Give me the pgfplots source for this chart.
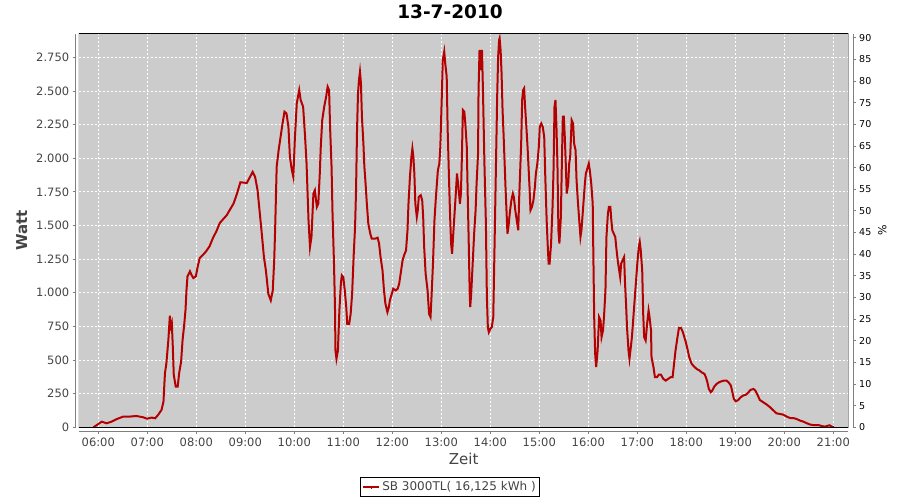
\documentclass[border=0pt]{standalone}
\usepackage{pgfplots}
\pgfplotsset{compat=1.18}
\usepackage{fontspec}
\setmainfont{DejaVu Sans}
\definecolor{lineRed}{RGB}{180,0,0}
\definecolor{plotBg}{RGB}{204,204,204}
\definecolor{txtGray}{RGB}{68,68,68}
\definecolor{axGray}{RGB}{128,128,128}
\begin{document}
\begin{tikzpicture}[x=1pt,y=1pt]
\path[use as bounding box] (0,0) rectangle (900,500);
\node[font=\fontsize{18.5}{20}\selectfont\bfseries, anchor=base] at (450,481.7) {13-7-2010};
\begin{axis}[
  at={(79pt,72.7pt)}, anchor=south west,
  scale only axis, width=769.3pt, height=393.3pt,
  xmin=5.606, xmax=21.306, ymin=0, ymax=2923,
  axis x line=bottom, axis y line=left,
  axis line style={axGray, -}, axis x line shift=3.7pt, axis y line shift=3.3pt,
  axis background/.style={fill=plotBg},
  xtick={6,7,...,21},
  xticklabels={06:00,07:00,08:00,09:00,10:00,11:00,12:00,13:00,14:00,15:00,16:00,17:00,18:00,19:00,20:00,21:00},
  ytick={0,250,...,2750},
  /pgf/number format/.cd, 1000 sep={.}, assume math mode=true, /pgfplots/.cd,
  scaled y ticks=false,
  tick align=outside, major tick length=3pt, tick style={axGray, line width=0.8pt},
  tick label style={font=\fontsize{11.5}{13}\selectfont, text=txtGray},
  grid=major, major grid style={white, dash pattern=on 2pt off 2pt, line width=0.8pt},
  xlabel={Zeit}, ylabel={Watt},
  xlabel style={font=\fontsize{15}{17}\selectfont, text=txtGray},
  ylabel style={font=\fontsize{15}{17}\selectfont\bfseries, text=txtGray, xshift=0pt, yshift=2pt},
  legend style={at={(0.4823,-0.1271)}, anchor=north, draw=black, line width=0.8pt,
    font=\fontsize{12}{13.5}\selectfont, text=txtGray, inner xsep=2pt, inner ysep=2pt},
  legend image code/.code={\draw[lineRed, line width=2pt] (0pt,0pt) -- (16pt,0pt);
    \draw[lineRed, line width=1pt] (8pt,0pt) -- (8pt,-2.5pt);},
]
\addplot[lineRed, line width=2pt] coordinates {
(5.90,0) (5.97,17) (6.07,42) (6.17,30) (6.27,42) (6.37,60) (6.51,80) (6.65,80)
(6.78,84) (6.92,74) (6.99,64) (7.09,72) (7.16,67) (7.22,92) (7.29,129) (7.33,191)
(7.36,402) (7.39,477) (7.43,650) (7.46,829) (7.48,750) (7.50,775) (7.52,600)
(7.54,390) (7.58,302) (7.62,302) (7.65,402) (7.69,489) (7.72,650) (7.75,750)
(7.78,873) (7.80,1022) (7.82,1121) (7.87,1159) (7.90,1134) (7.94,1109) (7.99,1121)
(8.03,1196) (8.07,1258) (8.14,1283) (8.20,1308) (8.27,1345) (8.34,1407) (8.41,1457)
(8.48,1519) (8.62,1576) (8.76,1663) (8.82,1725) (8.90,1821) (9.03,1816) (9.06,1836)
(9.15,1898) (9.20,1861) (9.25,1762) (9.29,1613) (9.33,1464) (9.38,1265) (9.42,1166)
(9.47,992) (9.52,943) (9.56,1017) (9.59,1241) (9.61,1489) (9.64,1936) (9.68,2060)
(9.72,2159) (9.76,2258) (9.80,2345) (9.84,2333) (9.88,2233) (9.91,2010) (9.95,1911)
(9.98,1861) (10.01,2134) (10.05,2407) (10.10,2506) (10.13,2432) (10.18,2382)
(10.22,2159) (10.25,1960) (10.29,1538) (10.32,1340) (10.35,1414) (10.39,1737)
(10.42,1762) (10.46,1638) (10.49,1663) (10.52,1886) (10.54,2084) (10.57,2283)
(10.61,2382) (10.65,2457) (10.68,2531) (10.71,2506) (10.73,2233) (10.76,1936)
(10.78,1588) (10.81,1216) (10.83,893) (10.84,571) (10.86,509) (10.89,571) (10.92,868)
(10.95,1067) (10.97,1129) (11.00,1116) (11.03,1017) (11.06,893) (11.08,769)
(11.12,769) (11.15,843) (11.18,992) (11.21,1265) (11.24,1489) (11.26,1762)
(11.28,2208) (11.30,2481) (11.32,2581) (11.34,2643) (11.36,2556) (11.38,2308)
(11.41,2109) (11.43,1936) (11.45,1836) (11.48,1663) (11.51,1514) (11.55,1439)
(11.58,1402) (11.65,1402) (11.70,1409) (11.73,1365) (11.76,1265) (11.80,1166)
(11.83,1017) (11.86,918) (11.90,856) (11.93,893) (11.95,943) (11.99,992) (12.02,1030)
(12.07,1017) (12.11,1030) (12.14,1067) (12.17,1141) (12.21,1241) (12.24,1278)
(12.28,1315) (12.31,1464) (12.33,1662) (12.36,1861) (12.39,2010) (12.41,2072)
(12.43,2010) (12.45,1886) (12.47,1662) (12.50,1563) (12.52,1613) (12.54,1712)
(12.58,1725) (12.61,1687) (12.63,1563) (12.65,1340) (12.68,1141) (12.72,1017)
(12.75,843) (12.78,819) (12.80,968) (12.83,1216) (12.86,1538) (12.89,1712)
(12.91,1811) (12.93,1911) (12.96,1960) (12.98,2084) (13.01,2457) (13.03,2730)
(13.06,2792) (13.08,2705) (13.11,2606) (13.13,2208) (13.16,1811) (13.18,1563)
(13.20,1365) (13.22,1290) (13.24,1414) (13.27,1588) (13.30,1762) (13.32,1886)
(13.35,1787) (13.38,1662) (13.40,1737) (13.42,2010) (13.44,2358) (13.47,2345)
(13.49,2258) (13.52,2084) (13.54,1712) (13.56,1365) (13.58,992) (13.59,893)
(13.61,992) (13.64,1216) (13.67,1439) (13.70,1613) (13.72,1811) (13.75,2035)
(13.76,2506) (13.78,2804) (13.80,2655) (13.83,2804) (13.85,2506) (13.88,1960)
(13.91,1514) (13.93,968) (13.95,744) (13.97,707) (14.00,732) (14.03,744) (14.06,819)
(14.08,1216) (14.11,1836) (14.14,2457) (14.16,2755) (14.18,2879) (14.19,2891)
(14.21,2804) (14.23,2630) (14.25,2357) (14.27,2184) (14.29,1985) (14.31,1787)
(14.33,1613) (14.35,1439) (14.37,1489) (14.40,1600) (14.43,1687) (14.46,1737)
(14.48,1712) (14.51,1613) (14.54,1538) (14.57,1464) (14.59,1712) (14.61,1911)
(14.63,2109) (14.65,2432) (14.67,2506) (14.69,2519) (14.71,2382) (14.74,2208)
(14.76,2084) (14.78,1936) (14.80,1787) (14.82,1613) (14.85,1638) (14.88,1687)
(14.91,1787) (14.93,1886) (14.96,1960) (14.99,2084) (15.01,2233) (15.04,2258)
(15.07,2233) (15.10,2159) (15.12,1886) (15.15,1538) (15.17,1365) (15.19,1216)
(15.21,1216) (15.24,1365) (15.27,1638) (15.29,1911) (15.31,2382) (15.33,2432)
(15.35,2233) (15.37,1960) (15.39,1464) (15.41,1365) (15.44,1563) (15.46,1960)
(15.48,2308) (15.50,2308) (15.52,2159) (15.54,1960) (15.56,1737) (15.59,1811)
(15.61,1960) (15.63,2010) (15.66,2283) (15.69,2258) (15.71,2109) (15.74,2060)
(15.76,1836) (15.79,1662) (15.82,1514) (15.84,1414) (15.86,1464) (15.88,1563)
(15.90,1662) (15.93,1811) (15.95,1886) (15.98,1923) (16.01,1960) (16.03,1911)
(16.06,1811) (16.09,1662) (16.10,1365) (16.12,819) (16.14,546) (16.16,447)
(16.19,571) (16.22,819) (16.25,794) (16.27,670) (16.30,720) (16.32,819) (16.35,1017)
(16.37,1414) (16.40,1588) (16.42,1638) (16.45,1638) (16.47,1538) (16.49,1464)
(16.52,1439) (16.55,1414) (16.57,1340) (16.60,1241) (16.63,1166) (16.65,1117)
(16.67,1216) (16.70,1241) (16.73,1265) (16.75,1067) (16.77,918) (16.79,744)
(16.82,571) (16.84,509) (16.86,571) (16.89,670) (16.92,819) (16.95,968) (16.97,1067)
(17.00,1216) (17.03,1340) (17.05,1377) (17.07,1315) (17.10,1166) (17.12,844)
(17.14,670) (17.17,645) (17.20,769) (17.23,868) (17.25,819) (17.28,720) (17.29,521)
(17.33,447) (17.36,372) (17.40,372) (17.44,392) (17.48,392) (17.53,360) (17.58,347)
(17.63,360) (17.68,372) (17.72,372) (17.75,471) (17.78,571) (17.82,670) (17.85,739)
(17.89,739) (17.93,707) (17.96,670) (17.99,633) (18.03,571) (18.06,521) (18.11,471)
(18.16,451) (18.21,434) (18.27,422) (18.31,409) (18.37,397) (18.40,372) (18.43,335)
(18.46,285) (18.50,261) (18.53,273) (18.57,303) (18.62,323) (18.67,335) (18.72,342)
(18.77,347) (18.82,347) (18.86,335) (18.91,310) (18.94,261) (18.97,211) (19.01,193)
(19.06,203) (19.11,223) (19.16,236) (19.22,243) (19.27,261) (19.31,278) (19.37,285)
(19.41,273) (19.46,236) (19.50,203) (19.57,186) (19.64,169) (19.71,149) (19.78,124)
(19.84,104) (19.91,99) (19.98,94) (20.05,79) (20.12,69) (20.18,69) (20.25,62)
(20.32,50) (20.39,42) (20.46,30) (20.53,20) (20.59,17) (20.69,17) (20.76,10)
(20.83,5) (20.92,15) (20.97,5) (21.01,0)
};
\addlegendentry{SB 3000TL( 16,125 kWh )}
\draw[black, line width=1pt] (rel axis cs:0,0) rectangle (rel axis cs:1,1);
\end{axis}
\begin{axis}[
  at={(79pt,72.7pt)}, anchor=south west,
  scale only axis, width=769.3pt, height=393.3pt,
  xmin=5.606, xmax=21.306, ymin=0, ymax=90.86,
  axis x line=none, axis y line=right,
  axis line style={axGray, -}, axis y line shift=4.4pt,
  ytick={0,5,...,90},
  /pgf/number format/.cd, assume math mode=true, /pgfplots/.cd,
  tick align=outside, major tick length=3pt, tick style={axGray, line width=0.8pt},
  tick label style={font=\fontsize{9.5}{11}\selectfont, text=black},
  ylabel={\%}, ylabel style={font=\fontsize{11}{13}\selectfont, text=black},
]
\addplot[draw=none] coordinates {(6,0)};
\end{axis}
\end{tikzpicture}
\end{document}
